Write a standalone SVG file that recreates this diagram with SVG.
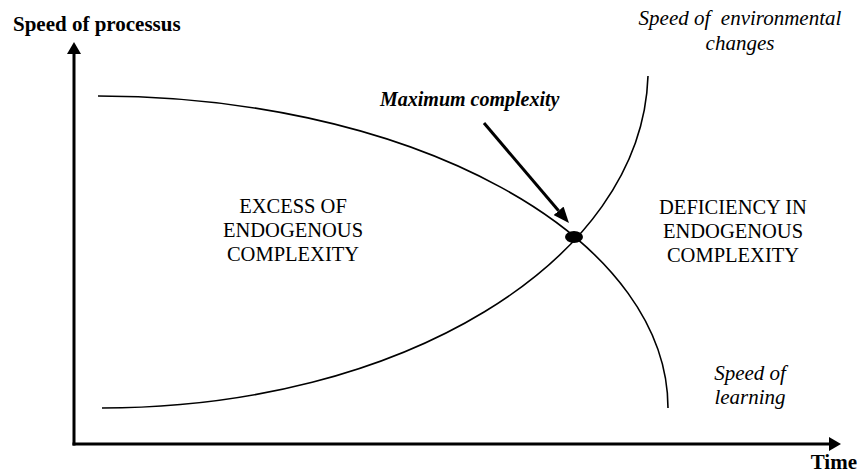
<svg xmlns="http://www.w3.org/2000/svg" width="860" height="473" viewBox="0 0 860 473">
<style>
.t{font-family:"Liberation Serif","Times New Roman",serif;font-size:21px;fill:#000}
.r{font-size:20.5px}
.m{font-size:20px}
.b{font-weight:bold}
.i{font-style:italic}
.c{text-anchor:middle}
.curve{fill:none;stroke:#000;stroke-width:1.6}
.axis{fill:none;stroke:#000;stroke-width:3}
</style>
<defs>
<marker id="ah" markerWidth="12" markerHeight="14" refX="0" refY="7" orient="auto" markerUnits="userSpaceOnUse">
<path d="M0,0 L12,7 L0,14 Z" fill="#000"/>
</marker>
<marker id="ah2" markerWidth="16" markerHeight="13" refX="0" refY="6.5" orient="auto" markerUnits="userSpaceOnUse">
<path d="M0,0 L16,6.5 L0,13 Z" fill="#000"/>
</marker>
</defs>
<g id="connectors">
<path class="axis" d="M74,445.5 L74,54" marker-end="url(#ah)"/>
<path class="axis" d="M72.5,444 L829,444" marker-end="url(#ah)"/>
<path class="curve" d="M98,96 A570,312 0 0 1 668,408"/>
<path class="curve" d="M102,408 C400,408 642,262 648,76"/>
<path class="axis" d="M484,123 L558.6,210.8" marker-end="url(#ah2)"/>
</g>
<g id="point">
<ellipse cx="574" cy="237" rx="9" ry="6" fill="#000"/>
</g>
<g id="y-label"><text class="t b" x="13" y="31">Speed of processus</text></g>
<g id="x-label"><text class="t b" x="857" y="469" text-anchor="end">Time</text></g>
<g id="env-label"><text class="t i c" x="740" y="25" xml:space="preserve">Speed of  environmental</text><text class="t i c" x="740" y="50">changes</text></g>
<g id="learn-label"><text class="t i c" x="750" y="380">Speed of</text><text class="t i c" x="750" y="404">learning</text></g>
<g id="max-label"><text class="t m b i" x="380" y="106">Maximum complexity</text></g>
<g id="excess"><text class="t r c" x="293" y="213">EXCESS OF</text><text class="t r c" x="293" y="237">ENDOGENOUS</text><text class="t r c" x="293" y="261">COMPLEXITY</text></g>
<g id="deficiency"><text class="t r c" x="733" y="214">DEFICIENCY IN</text><text class="t r c" x="733" y="238">ENDOGENOUS</text><text class="t r c" x="733" y="262">COMPLEXITY</text></g>
</svg>
